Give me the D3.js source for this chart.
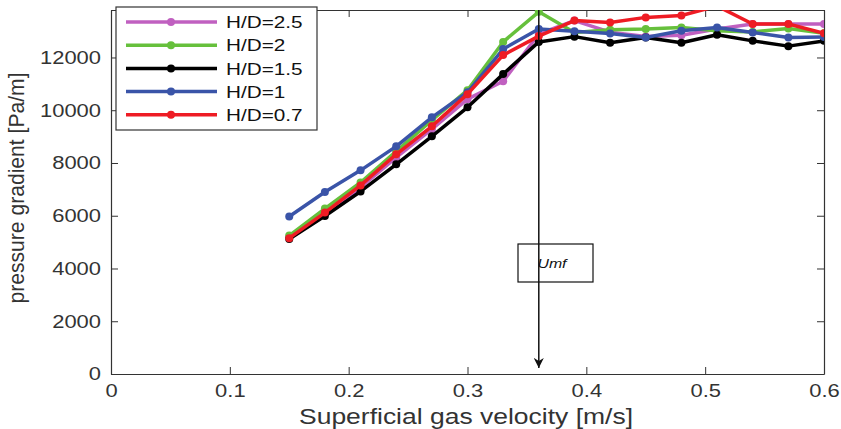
<!DOCTYPE html>
<html>
<head>
<meta charset="utf-8">
<script src="https://cdnjs.cloudflare.com/ajax/libs/d3/7.8.5/d3.min.js"></script>
<style>
  body { margin: 0; background: #fff; }
  text { font-family: "Liberation Sans", Arial, sans-serif; fill: #333; }
</style>
</head>
<body>
<script>
// superficial gas velocity [m/s]
var velocity = [0.15, 0.18, 0.21, 0.24, 0.27, 0.30, 0.33, 0.36, 0.39, 0.42, 0.45, 0.48, 0.51, 0.54, 0.57, 0.60];

// pressure gradient [Pa/m] for each H/D
var hd25 = [5200, 6100, 7070, 8210, 9280, 10420, 11100, 12890, 13400, 12960, 12800, 12840, 13080, 13270, 13270, 13270];
var hd2  = [5250, 6270, 7260, 8440, 9620, 10760, 12590, 13730, 12950, 13050, 13080, 13140, 13010, 12970, 13100, 12920];
var hd15 = [5120, 5990, 6920, 7950, 9010, 10110, 11370, 12590, 12790, 12560, 12760, 12560, 12860, 12630, 12430, 12630];
var hd1  = [5970, 6900, 7720, 8630, 9730, 10680, 12320, 13080, 12990, 12910, 12760, 13010, 13140, 12950, 12760, 12780];
var hd07 = [5150, 6120, 7150, 8330, 9390, 10610, 12090, 12810, 13400, 13330, 13520, 13590, 13950, 13270, 13270, 12920];

var seriesNames = ['H/D=2.5', 'H/D=2', 'H/D=1.5', 'H/D=1', 'H/D=0.7'];
var seriesValues = [hd25, hd2, hd15, hd1, hd07];
var seriesColors = ['#c060c0', '#66c03c', '#000000', '#3a54a8', '#ee1c24'];

var xTicks = [0, 0.1, 0.2, 0.3, 0.4, 0.5, 0.6];
var yTicks = [0, 2000, 4000, 6000, 8000, 10000, 12000];
var umf = 0.36;

var width = 841, height = 429;
var pLeft = 111, pRight = 824, pTop = 10, pBottom = 374;
var stretch = 1.22; // the original figure's text is a bit wider than normal

var svg = d3.select('body').append('svg')
    .attr('width', width)
    .attr('height', height);

var x = d3.scaleLinear().domain([0, 0.6]).range([pLeft, pRight]);
var y = d3.scaleLinear().domain([0, 13800]).range([pBottom, pTop]);

var defs = svg.append('defs');
defs.append('clipPath').attr('id', 'plot')
    .append('rect')
    .attr('x', pLeft).attr('y', pTop)
    .attr('width', pRight - pLeft).attr('height', pBottom - pTop);

// axes with ticks inside, on all four sides like matlab's box
var tickLen = 7;
svg.append('g')
    .attr('transform', 'translate(0,' + pBottom + ')')
    .call(d3.axisBottom(x).tickValues(xTicks).tickSizeInner(-tickLen).tickSizeOuter(0).tickPadding(10).tickFormat(d3.format('')))
    .call(g => g.selectAll('text').attr('font-size', 18).attr('dy', '0.72em')
        .attr('transform', 'scale(' + stretch + ',1)'));
svg.append('g')
    .attr('transform', 'translate(0,' + pTop + ')')
    .call(d3.axisTop(x).tickValues(xTicks).tickSizeInner(-tickLen).tickSizeOuter(0).tickFormat(''));
svg.append('g')
    .attr('transform', 'translate(' + pLeft + ',0)')
    .call(d3.axisLeft(y).tickValues(yTicks).tickSizeInner(-tickLen).tickSizeOuter(0).tickFormat(d3.format('d')))
    .call(g => g.selectAll('text').attr('font-size', 18)
        .attr('x', -10 / stretch)
        .attr('transform', 'scale(' + stretch + ',1)'));
svg.append('g')
    .attr('transform', 'translate(' + pRight + ',0)')
    .call(d3.axisRight(y).tickValues(yTicks).tickSizeInner(-tickLen).tickSizeOuter(0).tickFormat(''));

svg.selectAll('.domain').attr('stroke', '#333').attr('stroke-width', 1.2);
svg.selectAll('.tick line').attr('stroke', '#333');
svg.selectAll('.tick text').attr('fill', '#333').attr('font-family', '"Liberation Sans", Arial, sans-serif');

// series
var line = d3.line()
    .x((d, i) => x(velocity[i]))
    .y(d => y(d));

var plot = svg.append('g').attr('clip-path', 'url(#plot)');

seriesValues.forEach(function (vals, k) {
    var g = plot.append('g');
    g.append('path')
        .datum(vals)
        .attr('fill', 'none')
        .attr('stroke', seriesColors[k])
        .attr('stroke-width', 3.5)
        .attr('stroke-linejoin', 'round')
        .attr('d', line);
    g.selectAll('circle')
        .data(vals)
        .enter()
        .append('circle')
        .attr('cx', (d, i) => x(velocity[i]))
        .attr('cy', d => y(d))
        .attr('r', 4)
        .attr('fill', seriesColors[k]);
});

// Umf arrow
defs.append('marker')
    .attr('id', 'arrow')
    .attr('viewBox', '0 0 10 10')
    .attr('refX', 10).attr('refY', 5)
    .attr('markerWidth', 10).attr('markerHeight', 10)
    .attr('markerUnits', 'userSpaceOnUse')
    .attr('orient', 'auto')
    .append('path')
    .attr('d', 'M0,0 L10,5 L0,10 L3,5 Z')
    .attr('fill', '#111');

svg.append('rect')
    .attr('x', 518).attr('y', 244)
    .attr('width', 75).attr('height', 38)
    .attr('fill', 'none')
    .attr('stroke', '#111')
    .attr('stroke-width', 1.2);
svg.append('text')
    .attr('transform', 'translate(552,268) scale(' + stretch + ',1)')
    .attr('text-anchor', 'middle')
    .attr('font-size', 13)
    .attr('font-style', 'italic')
    .style('fill', '#111')
    .text('Umf');
svg.append('line')
    .attr('x1', x(umf)).attr('x2', x(umf))
    .attr('y1', pTop).attr('y2', 368)
    .attr('stroke', '#111')
    .attr('stroke-width', 1.5)
    .attr('marker-end', 'url(#arrow)');

// legend
var legend = svg.append('g');
legend.append('rect')
    .attr('x', 116).attr('y', 7)
    .attr('width', 201).attr('height', 123)
    .attr('fill', '#fff')
    .attr('stroke', '#333')
    .attr('stroke-width', 1.2);
seriesNames.forEach(function (name, k) {
    var ly = 22 + k * 23.2;
    legend.append('line')
        .attr('x1', 126).attr('x2', 217)
        .attr('y1', ly).attr('y2', ly)
        .attr('stroke', seriesColors[k])
        .attr('stroke-width', 3.5);
    legend.append('circle')
        .attr('cx', 171).attr('cy', ly).attr('r', 4)
        .attr('fill', seriesColors[k]);
    legend.append('text')
        .attr('transform', 'translate(226,' + ly + ') scale(' + stretch + ',1)')
        .attr('dy', '0.36em')
        .attr('font-size', 17)
        .style('fill', '#111')
        .text(name);
});

// axis titles
svg.append('text')
    .attr('x', 466).attr('y', 424)
    .attr('text-anchor', 'middle')
    .attr('font-size', 22)
    .attr('textLength', 334)
    .attr('lengthAdjust', 'spacingAndGlyphs')
    .text('Superficial gas velocity [m/s]');
svg.append('text')
    .attr('transform', 'translate(24,188) scale(' + stretch + ',1) rotate(-90)')
    .attr('text-anchor', 'middle')
    .attr('font-size', 18)
    .attr('textLength', 231)
    .attr('lengthAdjust', 'spacingAndGlyphs')
    .text('pressure gradient [Pa/m]');
</script>
</body>
</html>
